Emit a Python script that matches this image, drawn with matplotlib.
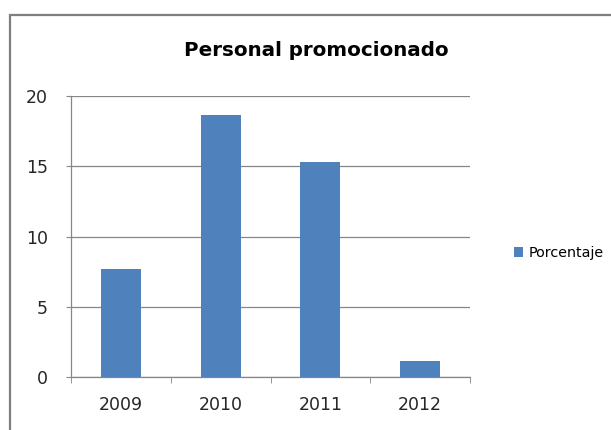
import numpy as np
import matplotlib
matplotlib.use("Agg")
import matplotlib.pyplot as plt
from matplotlib.patches import Rectangle

years = ["2009", "2010", "2011", "2012"]
porcentaje = [7.7, 18.65, 15.3, 1.15]
yticks = [0, 5, 10, 15, 20]

W, H = 611, 430
fig = plt.figure(figsize=(W/100., H/100.), dpi=100)
fig.patch.set_facecolor("white")

# axes box in pixel coords of the reference
left, right, top, bottom = 71, 470, 96, 377
ax = fig.add_axes([left/W, 1-bottom/H, (right-left)/W, (bottom-top)/H])

x = np.arange(len(years))
bars = ax.bar(x, porcentaje, width=0.4, color="#4F81BD", label="Porcentaje", zorder=3)

ax.set_xlim(-0.5, len(years)-0.5)
ax.set_ylim(0, 20)
ax.set_yticks(yticks)
ax.set_yticklabels([str(t) for t in yticks], family="DejaVu Sans", fontsize=12.5)
ax.set_xticks(x)
ax.set_xticklabels(years, family="DejaVu Sans", fontsize=12.5)
ax.set_xticks(np.arange(len(years)+1)-0.5, minor=True)

ax.tick_params(axis="x", which="major", length=0, pad=14, colors="#262626")
ax.tick_params(axis="x", which="minor", length=4.5, direction="out", color="#868686")
ax.tick_params(axis="y", length=3.6, direction="out", pad=13, colors="#262626")
ax.tick_params(axis="y", color="#868686")

ax.grid(axis="y", color="#868686", lw=0.9, zorder=0)
for s in ["top", "right"]:
	ax.spines[s].set_visible(False)
for s in ["left", "bottom"]:
	ax.spines[s].set_color("#868686")
	ax.spines[s].set_linewidth(0.9)

fig.text(316/W, 1-51/H, "Personal promocionado", family="DejaVu Sans", fontweight="bold",
	fontsize=14.3, ha="center", va="center")

leg = ax.legend(loc="center left", bbox_to_anchor=(514/W, 1-253/H), bbox_transform=fig.transFigure,
	frameon=False, borderpad=0, borderaxespad=0, handlelength=0.65, handleheight=0.65,
	handletextpad=0.35, prop={"family": "DejaVu Sans", "size": 10.3})

# outer chart frame, cut at right and bottom like the reference
fig.patches.append(Rectangle((9.5/W, -0.1), 1.0, 1.1-15/H, transform=fig.transFigure,
	fill=False, edgecolor="#7f7f7f", lw=1.6))

fig.savefig("out.png", dpi=100)
